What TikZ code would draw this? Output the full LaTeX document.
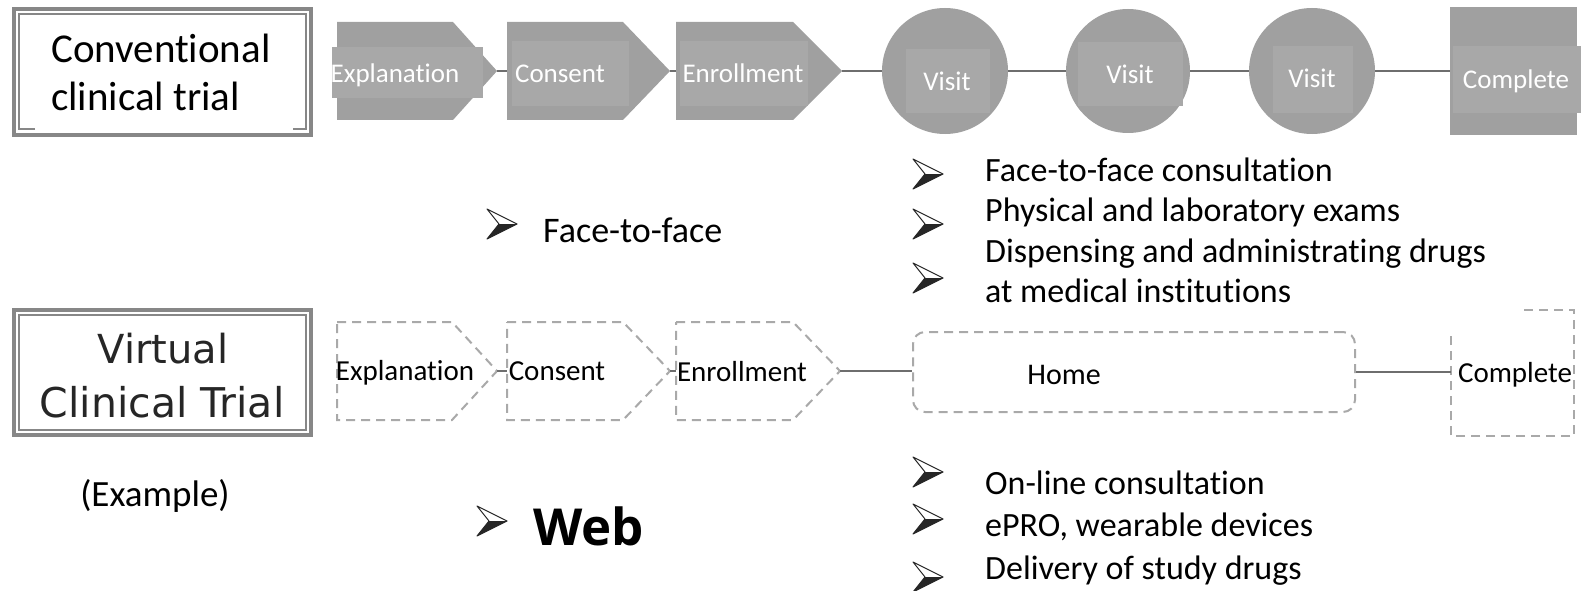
\documentclass[tikz,border=0pt]{standalone}
\usepackage{fontspec}
\setmainfont{Carlito}[Ligatures={NoCommon}, RawFeature=-clig]
\newfontfamily\vfont{DejaVu Sans}
\newfontfamily\wfont{Open Sans}
\definecolor{shapefill}{HTML}{A0A0A0}
\definecolor{labfill}{HTML}{A8A8A8}
\definecolor{conncol}{HTML}{6E6E6E}
\definecolor{dashcol}{HTML}{A9A9A9}
\definecolor{framecol}{HTML}{878787}
\newcommand{\fsz}[1]{\fontsize{#1}{#1}\selectfont}
\begin{document}
\begin{tikzpicture}[x=1pt,y=-1pt,
  conline/.style={draw=conncol, line width=2pt},
  dashline/.style={draw=dashcol, line width=2pt, dash pattern=on 9pt off 6pt},
  toptext/.style={text=white, font=\fsz{27}, inner sep=0pt, anchor=base},
  bottext/.style={text=black, font=\fsz{29}, inner sep=0pt, anchor=base},
  listtext/.style={font=\fsz{34}, inner sep=0pt, anchor=base west},
  labrect/.style={fill=labfill, draw=none, inner sep=0pt},
  arrowbullet/.pic={
    \fill[white] (0,-15) -- (30,0) -- (12,0) -- cycle;
    \fill[black!85] (12,0) -- (30,0) -- (0,15) -- cycle;
    \draw[black!85, line width=1pt, line join=round] (0,-15) -- (30,0) -- (0,15) -- (12,0) -- cycle;
  }]
\useasboundingbox (0,0) rectangle (1581,591);
\fill[white] (0,0) rectangle (1581,591);

% ---------- left frames ----------
\node[draw=framecol, line width=4pt, minimum width=297pt, minimum height=126pt, inner sep=0pt] (convbox) at (162.5,72) {};
\draw[framecol, line width=1.3pt] (35,129) -- (19,129) -- (19,14) -- (306,14) -- (306,129) -- (293,129);
\node[font=\fsz{41}, anchor=base west, inner sep=0pt] (conv1) at (51,63) {Conventional};
\node[font=\fsz{41}, anchor=base west, inner sep=0pt] (conv2) at (51,111) {clinical trial};

\node[draw=framecol, line width=4pt, minimum width=297pt, minimum height=125pt, inner sep=0pt] (virtbox) at (162.5,372.5) {};
\draw[framecol, line width=1.3pt] (19,315) rectangle (306,430);
\node[font=\vfont\fsz{40}, anchor=base, inner sep=0pt, text=black!85] (virt1) at (163,363) {Virtual};
\node[font=\vfont\fsz{41}, anchor=base, inner sep=0pt, text=black!85] (virt2) at (162,417) {Clinical Trial};
\node[font=\fsz{37}, anchor=base, inner sep=0pt] (example) at (155,506) {(Example)};

% ---------- top row ----------
\fill[shapefill] (337,22) -- (453,22) -- (497,71) -- (453,120) -- (337,120) -- cycle;
\coordinate (exT) at (497,71);
\node[labrect, minimum width=151pt, minimum height=51pt] (exR) at (407.5,72.5) {};
\node[toptext] (exX) at (395,83) {Explanation};

\fill[shapefill] (507,22) -- (623,22) -- (670,71) -- (623,120) -- (507,120) -- cycle;
\coordinate (coL) at (507,71);
\coordinate (coT) at (670,71);
\node[labrect, minimum width=117pt, minimum height=65pt] (coR) at (570.5,73.5) {};
\node[toptext] (coX) at (560,83) {Consent};

\fill[shapefill] (676,22) -- (793,22) -- (842,71) -- (793,120) -- (676,120) -- cycle;
\coordinate (enL) at (676,71);
\coordinate (enT) at (842,71);
\node[labrect, minimum width=128pt, minimum height=65pt] (enR) at (744,73.5) {};
\node[toptext] (enX) at (743,83) {Enrollment};

\node[circle, fill=shapefill, minimum size=126pt, inner sep=0pt] (v1) at (945,71) {};
\node[circle, fill=shapefill, minimum size=124pt, inner sep=0pt] (v2) at (1128,71) {};
\node[circle, fill=shapefill, minimum size=126pt, inner sep=0pt] (v3) at (1312,71) {};
\node[labrect, minimum width=84pt, minimum height=64pt] (v1R) at (948,81) {};
\node[labrect, minimum width=105pt, minimum height=64pt] (v2R) at (1130.5,74) {};
\node[labrect, minimum width=80pt, minimum height=67pt] (v3R) at (1313,79.5) {};
\node[toptext] (v1X) at (947,91) {Visit};
\node[toptext] (v2X) at (1130,84) {Visit};
\node[toptext] (v3X) at (1312,88) {Visit};

\node[rectangle, fill=shapefill, minimum width=127pt, minimum height=128pt, inner sep=0pt] (cp) at (1513.5,71) {};
\node[labrect, minimum width=128pt, minimum height=67pt] (cpR) at (1517,79.5) {};
\node[toptext] (cpX) at (1516,89) {Complete};

\draw[conline] (exT) -- (coL);
\draw[conline] (coT) -- (enL);
\draw[conline] (enT) -- (v1);
\draw[conline] (v1) -- (v2);
\draw[conline] (v2) -- (v3);
\draw[conline] (v3) -- (cp);

% ---------- bottom row ----------
\draw[dashline] (337,322) -- (452,322) -- (497,371) -- (452,420) -- (337,420) -- cycle;
\coordinate (ex2T) at (497,371);
\node[bottext] (ex2X) at (405,380) {Explanation};

\draw[dashline] (507,322) -- (623,322) -- (670,371) -- (623,420) -- (507,420) -- cycle;
\coordinate (co2L) at (507,371);
\coordinate (co2T) at (670,371);
\node[bottext] (co2X) at (557,380) {Consent};

\draw[dashline] (676,322) -- (793,322) -- (840,371) -- (793,420) -- (676,420) -- cycle;
\coordinate (en2L) at (676,371);
\coordinate (en2T) at (840,371);
\node[bottext] (en2X) at (742,381) {Enrollment};

\node[dashline, rounded corners=12pt, minimum width=442pt, minimum height=80pt, inner sep=0pt] (home) at (1134,372) {};
\node[font=\fsz{30}, anchor=base, inner sep=0pt] (homeX) at (1064,384) {Home};

\draw[dashline] (1524,310) -- (1574,310) -- (1574,436) -- (1451,436) -- (1451,331);
\coordinate (cp2L) at (1451,372);
\node[bottext] (cp2X) at (1515,382) {Complete};

\draw[conline] (ex2T) -- (co2L);
\draw[conline] (co2T) -- (en2L);
\draw[conline] (en2T) -- (en2T -| home.west);
\draw[conline] (home.east) -- (cp2L);

% ---------- bullet texts ----------
\pic at (487,224) {arrowbullet};
\node[font=\fsz{36}, anchor=base west, inner sep=0pt] (f2f) at (543,242) {Face-to-face};

\pic at (477,521) {arrowbullet};
\node[font=\wfont\bfseries\fsz{51}, anchor=base west, inner sep=0pt] (web) at (533,545) {Web};

\pic at (913,174) {arrowbullet};
\pic at (913,224) {arrowbullet};
\pic at (913,278) {arrowbullet};
\node[listtext] (t1) at (985,181) {Face-to-face consultation};
\node[listtext] (t2) at (985,221) {Physical and laboratory exams};
\node[listtext] (t3) at (985,262) {Dispensing and administrating drugs};
\node[listtext] (t4) at (985,302) {at medical institutions};

\pic at (913,472) {arrowbullet};
\pic at (913,519) {arrowbullet};
\pic at (913,577) {arrowbullet};
\node[listtext] (b1) at (985,494) {On-line consultation};
\node[listtext] (b2) at (985,536) {ePRO, wearable devices};
\node[listtext] (b3) at (985,579) {Delivery of study drugs};
\end{tikzpicture}
\end{document}
